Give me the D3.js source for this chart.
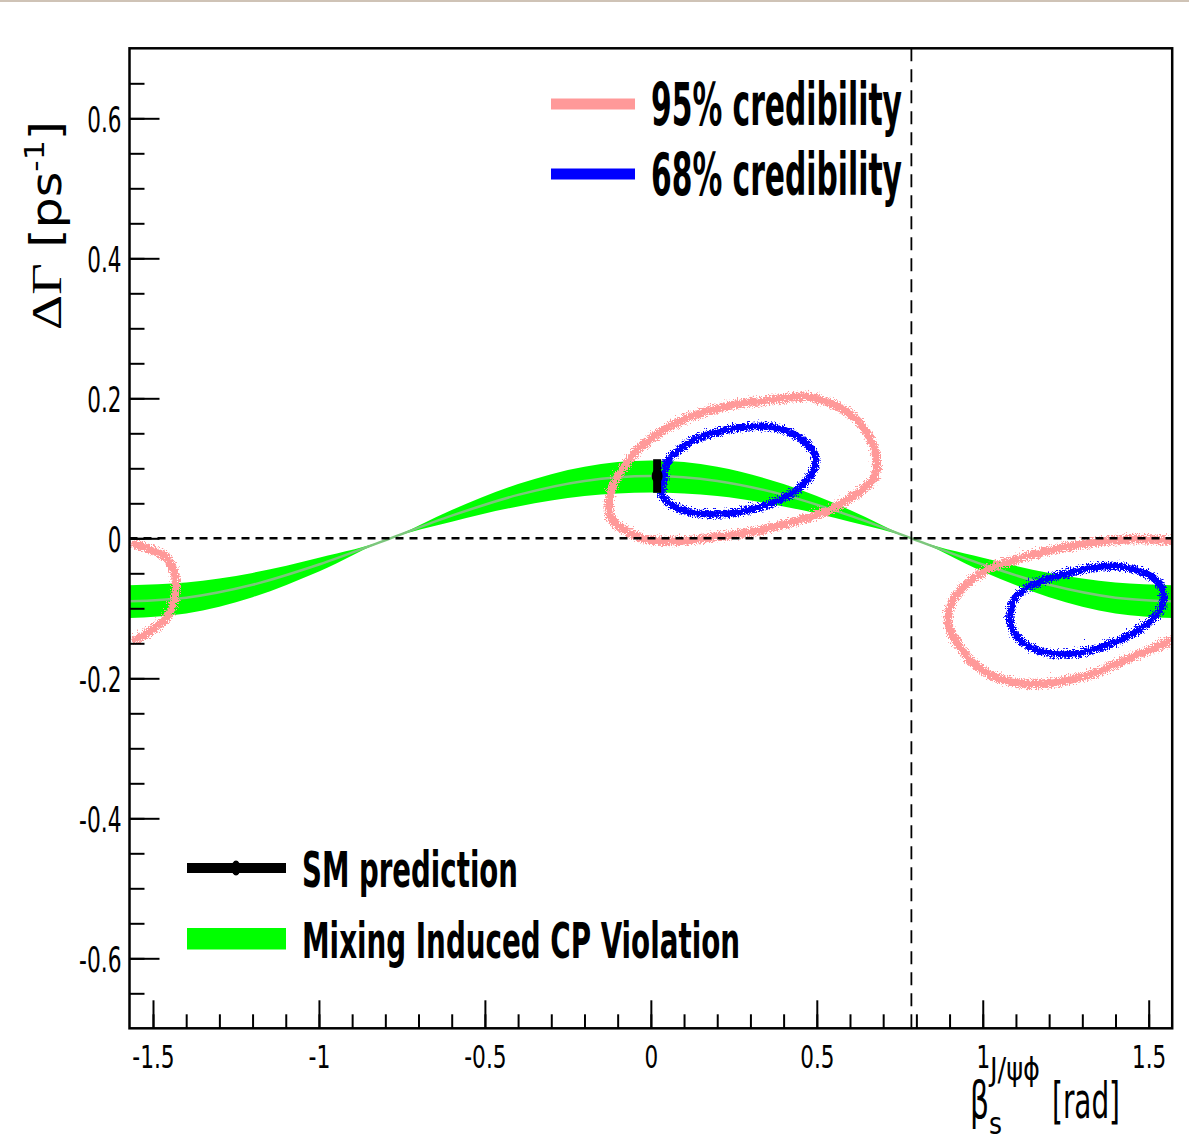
<!DOCTYPE html>
<html><head><meta charset="utf-8">
<script src="https://cdn.jsdelivr.net/npm/d3@7"></script>
<style>body{margin:0;background:#fff;} svg{display:block}</style>
</head><body>
<svg id="c" width="1189" height="1139"></svg>
<script>
// ---------- data ----------
const xTicksMajor = [-1.5, -1, -0.5, 0, 0.5, 1, 1.5];
const xTickLabels = ["-1.5", "-1", "-0.5", "0", "0.5", "1", "1.5"];
const xTicksMinor = [-1.5,-1.4,-1.3,-1.2,-1.1,-1,-0.9,-0.8,-0.7,-0.6,-0.5,-0.4,-0.3,-0.2,-0.1,0,0.1,0.2,0.3,0.4,0.5,0.6,0.7,0.8,0.9,1,1.1,1.2,1.3,1.4,1.5];
const yTicksMajor = [-0.6, -0.4, -0.2, 0, 0.2, 0.4, 0.6];
const yTickLabels = ["-0.6", "-0.4", "-0.2", "0", "0.2", "0.4", "0.6"];
const yTicksMinor = [-0.65,-0.6,-0.55,-0.5,-0.45,-0.4,-0.35,-0.3,-0.25,-0.2,-0.15,-0.1,-0.05,0,0.05,0.1,0.15,0.2,0.25,0.3,0.35,0.4,0.45,0.5,0.55,0.6,0.65];

// Mixing induced CP violation band (beta_s, DeltaGamma)
const bandBeta   = [-1.5708, -1.4, -1.2, -1.0, -0.785, -0.6, -0.4, -0.2, 0, 0.2, 0.4, 0.6, 0.785, 1.0, 1.2, 1.4, 1.5708];
const bandCenter = [-0.090, -0.0848, -0.0664, -0.0375, 0, 0.0323, 0.0620, 0.0820, 0.0890, 0.0820, 0.0620, 0.0323, 0, -0.0375, -0.0664, -0.0848, -0.090];
const bandUpper  = [-0.067, -0.0631, -0.0494, -0.0279, 0, 0.0404, 0.0774, 0.1023, 0.1110, 0.1023, 0.0774, 0.0404, 0, -0.0279, -0.0494, -0.0631, -0.067];
const bandLower  = [-0.114, -0.1074, -0.0841, -0.0474, 0, 0.0238, 0.0456, 0.0603, 0.0655, 0.0603, 0.0456, 0.0238, 0, -0.0474, -0.0841, -0.1074, -0.114];

// credibility contours [beta_s, DeltaGamma]
const c95Central = [[-0.133,0.045],[-0.123,0.074],[-0.093,0.102],[-0.043,0.131],[0.037,0.159],[0.128,0.179],[0.238,0.193],[0.349,0.200],[0.459,0.205],[0.539,0.195],[0.610,0.174],[0.655,0.145],[0.675,0.112],[0.665,0.088],[0.620,0.069],[0.539,0.045],[0.439,0.029],[0.319,0.014],[0.198,0.005],[0.068,-0.001],[-0.023,0.002],[-0.083,0.014],[-0.123,0.029]];
const c68Central = [[0.033,0.088],[0.043,0.112],[0.088,0.133],[0.158,0.150],[0.238,0.159],[0.319,0.163],[0.399,0.157],[0.459,0.140],[0.491,0.117],[0.479,0.095],[0.439,0.074],[0.379,0.057],[0.299,0.045],[0.208,0.038],[0.118,0.040],[0.058,0.050],[0.028,0.064]];
const c95Right = [[1.5708,-0.001],[1.463,0.002],[1.343,-0.002],[1.222,-0.012],[1.102,-0.026],[1.011,-0.041],[0.941,-0.064],[0.896,-0.093],[0.891,-0.121],[0.921,-0.150],[0.961,-0.174],[1.031,-0.195],[1.121,-0.205],[1.222,-0.202],[1.322,-0.191],[1.423,-0.171],[1.503,-0.155],[1.5708,-0.141]];
const c95Left = [[-1.5708,-0.004],[-1.508,-0.014],[-1.463,-0.026],[-1.443,-0.045],[-1.436,-0.069],[-1.448,-0.093],[-1.468,-0.112],[-1.508,-0.127],[-1.548,-0.139],[-1.5708,-0.143]];
const c68Right = [[1.076,-0.107],[1.091,-0.083],[1.142,-0.064],[1.222,-0.050],[1.302,-0.041],[1.383,-0.037],[1.463,-0.043],[1.523,-0.060],[1.538,-0.079],[1.528,-0.100],[1.483,-0.121],[1.413,-0.141],[1.332,-0.155],[1.262,-0.162],[1.182,-0.160],[1.112,-0.145],[1.082,-0.126]];

// SM prediction
const smBeta = 0.019, smDG = 0.089, smLow = 0.065, smHigh = 0.113;
const refBeta = 0.785; // dashed vertical reference

const legendTop = ["95% credibility", "68% credibility"];
const legendBottom = ["SM prediction", "Mixing Induced CP Violation"];

// ---------- drawing ----------
const svg = d3.select("#c");
const NARROW = "'Liberation Sans Narrow','DejaVu Sans Condensed','Liberation Sans',Arial,sans-serif";
const x = d3.scaleLinear().domain([-Math.PI/2, Math.PI/2]).range([129.5, 1172.2]);
const y = d3.scaleLinear().domain([-0.7, 0.7]).range([1028.3, 48.3]);
const [X0, X1] = x.range(), [Y0, Y1] = y.range();

const defs = svg.append("defs");
defs.append("clipPath").attr("id", "plotclip").append("rect")
  .attr("x", X0).attr("y", Y1).attr("width", X1 - X0).attr("height", Y0 - Y1);
const f = defs.append("filter").attr("id", "rough").attr("filterUnits", "userSpaceOnUse")
  .attr("x", 0).attr("y", 0).attr("width", 1189).attr("height", 1139);
f.append("feTurbulence").attr("type", "turbulence").attr("baseFrequency", "0.55").attr("numOctaves", 1).attr("seed", 4).attr("result", "n");
f.append("feDisplacementMap").attr("in", "SourceGraphic").attr("in2", "n").attr("scale", 9)
  .attr("xChannelSelector", "R").attr("yChannelSelector", "G").attr("result", "d");
f.append("feOffset").attr("in", "d").attr("dx", -1.5).attr("dy", -1.5);

// faint top border line
svg.append("rect").attr("x", 0).attr("y", 0).attr("width", 1189).attr("height", 2).attr("fill", "#cfc3b6");

const plot = svg.append("g").attr("clip-path", "url(#plotclip)");

// band
const bandData = bandBeta.map((b, i) => ({b, c: bandCenter[i], u: bandUpper[i], l: bandLower[i]}));
plot.append("path").datum(bandData)
  .attr("d", d3.area().x(d => x(d.b)).y0(d => y(d.l)).y1(d => y(d.u)).curve(d3.curveMonotoneX))
  .attr("fill", "#00ff00");
plot.append("path").datum(bandData)
  .attr("d", d3.line().x(d => x(d.b)).y(d => y(d.c)).curve(d3.curveMonotoneX))
  .attr("fill", "none").attr("stroke", "#7cc67c").attr("stroke-width", 2.5);

// contours
const closedLine = d3.line().x(d => x(d[0])).y(d => y(d[1])).curve(d3.curveCatmullRomClosed);
const openLine = d3.line().x(d => x(d[0])).y(d => y(d[1])).curve(d3.curveCatmullRom);
const cg = plot.append("g").attr("filter", "url(#rough)");
[[c95Central, true], [c95Right, false], [c95Left, false]].forEach(([pts, closed]) => {
  cg.append("path").attr("d", closed ? closedLine(pts) : openLine(pts))
    .attr("fill", "none").attr("stroke", "#ff9999").attr("stroke-width", 8.5);
});
[c68Central, c68Right].forEach(pts => {
  cg.append("path").attr("d", closedLine(pts))
    .attr("fill", "none").attr("stroke", "#0000ff").attr("stroke-width", 7.5);
});

// SM prediction
plot.append("line").attr("x1", x(smBeta)).attr("x2", x(smBeta)).attr("y1", y(smLow)).attr("y2", y(smHigh))
  .attr("stroke", "#000").attr("stroke-width", 8);
plot.append("ellipse").attr("cx", x(smBeta)).attr("cy", y(smDG)).attr("rx", 5.5).attr("ry", 7).attr("fill", "#000");

// dashed reference lines
svg.append("line").attr("x1", X0).attr("x2", X1).attr("y1", y(0)).attr("y2", y(0))
  .attr("stroke", "#000").attr("stroke-width", 2.5).attr("stroke-dasharray", "8,6");
svg.append("line").attr("x1", x(refBeta)).attr("x2", x(refBeta)).attr("y1", Y1).attr("y2", Y0)
  .attr("stroke", "#000").attr("stroke-width", 1.8).attr("stroke-dasharray", "13,8");

// frame
svg.append("rect").attr("x", X0).attr("y", Y1).attr("width", X1 - X0).attr("height", Y0 - Y1)
  .attr("fill", "none").attr("stroke", "#000").attr("stroke-width", 2.5);

// narrow-font em widths used to fix label widths
const em = {"0":.456,"1":.456,"2":.456,"3":.456,"4":.456,"5":.456,"6":.456,"7":.456,"8":.456,"9":.456,".":.228,"-":.273};
const widthOf = s => s.split("").reduce((a, ch) => a + (em[ch] || .456), 0);

// x axis
const gxMin = svg.append("g").attr("transform", `translate(0,${Y0})`)
  .call(d3.axisBottom(x).tickValues(xTicksMinor).tickSizeInner(-14).tickSizeOuter(0).tickFormat(""));
const gx = svg.append("g").attr("transform", `translate(0,${Y0})`)
  .call(d3.axisBottom(x).tickValues(xTicksMajor).tickSizeInner(-28).tickSizeOuter(0).tickPadding(10)
    .tickFormat((d, i) => xTickLabels[i]));
[gxMin, gx].forEach(g => { g.select(".domain").remove(); g.selectAll("line").attr("stroke-width", 2); });
gx.selectAll("text").attr("font-family", NARROW).attr("font-size", 32).attr("fill", "#000")
  .attr("dy", null).attr("y", 40)
  .each(function(d, i) { d3.select(this).attr("textLength", widthOf(xTickLabels[i]) * 30).attr("lengthAdjust", "spacingAndGlyphs"); });

// y axis
const gyMin = svg.append("g").attr("transform", `translate(${X0},0)`)
  .call(d3.axisLeft(y).tickValues(yTicksMinor).tickSizeInner(-15).tickSizeOuter(0).tickFormat(""));
const gy = svg.append("g").attr("transform", `translate(${X0},0)`)
  .call(d3.axisLeft(y).tickValues(yTicksMajor).tickSizeInner(-30).tickSizeOuter(0).tickPadding(8)
    .tickFormat((d, i) => yTickLabels[i]));
[gyMin, gy].forEach(g => { g.select(".domain").remove(); g.selectAll("line").attr("stroke-width", 2); });
gy.selectAll("text").attr("font-family", NARROW).attr("font-size", 36).attr("fill", "#000")
  .attr("dy", "0.36em")
  .each(function(d, i) { d3.select(this).attr("textLength", widthOf(yTickLabels[i]) * 30).attr("lengthAdjust", "spacingAndGlyphs"); });

// y title
const yt = svg.append("text").attr("transform", "translate(61,330) rotate(-90)")
  .attr("font-size", 42).attr("fill", "#000");
yt.append("tspan").attr("font-family", "'Liberation Serif','Times New Roman',serif").text("ΔΓ");
yt.append("tspan").attr("font-family", NARROW).text(" [ps");
yt.append("tspan").attr("font-family", NARROW).attr("font-size", 27).attr("dy", -17).text("-1");
yt.append("tspan").attr("font-family", NARROW).attr("dy", 17).text("]");
yt.attr("textLength", 209).attr("lengthAdjust", "spacingAndGlyphs");

// x title
svg.append("text").attr("x", 970).attr("y", 1118).attr("font-family", "'DejaVu Sans',sans-serif")
  .attr("font-size", 52).attr("textLength", 19).attr("lengthAdjust", "spacingAndGlyphs").text("β");
svg.append("text").attr("x", 990).attr("y", 1080).attr("font-family", NARROW)
  .attr("font-size", 32).attr("textLength", 50).attr("lengthAdjust", "spacingAndGlyphs").text("J/ψϕ");
svg.append("text").attr("x", 989).attr("y", 1134).attr("font-family", NARROW)
  .attr("font-size", 31).attr("textLength", 13).attr("lengthAdjust", "spacingAndGlyphs").text("s");
svg.append("text").attr("x", 1052).attr("y", 1118).attr("font-family", NARROW)
  .attr("font-size", 50).attr("textLength", 68).attr("lengthAdjust", "spacingAndGlyphs").text("[rad]");

// top legend
const legTopColors = ["#ff9999", "#0000ff"];
legendTop.forEach((t, i) => {
  const yy = 104 + i * 70;
  svg.append("line").attr("x1", 551).attr("x2", 635).attr("y1", yy).attr("y2", yy)
    .attr("stroke", legTopColors[i]).attr("stroke-width", 11);
  svg.append("text").attr("x", 651).attr("y", yy + 21).attr("font-family", NARROW).attr("font-weight", "bold")
    .attr("font-size", 58).attr("fill", "#000")
    .attr("textLength", 251).attr("lengthAdjust", "spacingAndGlyphs").text(t);
});

// bottom legend
svg.append("line").attr("x1", 187).attr("x2", 286).attr("y1", 868).attr("y2", 868)
  .attr("stroke", "#000").attr("stroke-width", 10);
svg.append("ellipse").attr("cx", 236).attr("cy", 868).attr("rx", 4.5).attr("ry", 7.5).attr("fill", "#000");
svg.append("rect").attr("x", 187).attr("y", 928).attr("width", 99).attr("height", 21.5).attr("fill", "#00ff00");
svg.append("text").attr("x", 302).attr("y", 887).attr("font-family", NARROW).attr("font-weight", "bold")
  .attr("font-size", 49).attr("fill", "#000").attr("textLength", 216).attr("lengthAdjust", "spacingAndGlyphs").text(legendBottom[0]);
svg.append("text").attr("x", 302).attr("y", 958).attr("font-family", NARROW).attr("font-weight", "bold")
  .attr("font-size", 49).attr("fill", "#000").attr("textLength", 438).attr("lengthAdjust", "spacingAndGlyphs").text(legendBottom[1]);
</script>
</body></html>
